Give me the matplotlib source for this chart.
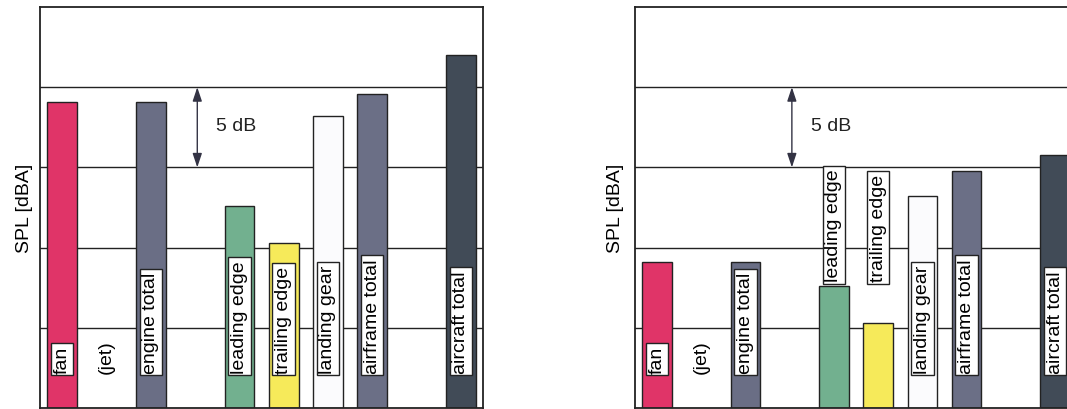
import numpy as np
import matplotlib.pyplot as plt

plt.rcParams['font.family'] = ['Liberation Sans', 'DejaVu Sans']

# sources, in order along the x axis (positions 3 and 8 left empty)
names = ['fan', '(jet)', 'engine total', 'leading edge', 'trailing edge',
         'landing gear', 'airframe total', 'aircraft total']
pos = [0, 1, 2, 4, 5, 6, 7, 9]
colors = ['#e03468', 'none', '#6a6e85', '#72b08f', '#f6ea5a',
          '#fbfbfd', '#6b6f86', '#414b57']

# relative SPL in dB (axis 0..25, grid every 5 dB)
spl_left = [19.1, 0, 19.1, 12.6, 10.3, 18.2, 19.6, 22.0]
spl_right = [9.1, 0, 9.1, 7.6, 5.3, 13.2, 14.8, 15.8]
# label bottom positions (right panel: leading/trailing edge above bars)
lab_left = [2.2] * 8
lab_right = [2.2, 2.2, 2.2, 7.9, 7.9, 2.2, 2.2, 2.2]

fig = plt.figure(figsize=(10.67, 4.10), dpi=100)
ax1 = fig.add_axes([0.0375, 0.0025, 0.4152, 0.978])
ax2 = fig.add_axes([0.595, 0.0025, 0.4145, 0.978])


def draw(ax, spl, lab, pad):
    ax.set_xlim(-0.5, 9.5)
    ax.set_ylim(0, 25)
    for g in [5, 10, 15, 20]:
        ax.axhline(g, color='#222222', lw=1.0, zorder=1)
    for p, v, c, n, l in zip(pos, spl, colors, names, lab):
        if n != '(jet)':
            ax.bar(p, v, width=0.67, color=c, edgecolor='#222222', lw=1.0, zorder=2)
            ax.text(p, l, n, rotation=90, ha='center', va='bottom', fontsize=14,
                    zorder=3, bbox=dict(boxstyle='square,pad=0.14', fc='white',
                                        ec='#222222', lw=1.0))
        else:
            ax.text(p, l, n, rotation=90, ha='center', va='bottom', fontsize=14, zorder=3)
    ax.annotate('', xy=(3.05, 20), xytext=(3.05, 15),
                arrowprops=dict(arrowstyle='<|-|>,head_length=0.6,head_width=0.2',
                                color='#333344', lw=1.0,
                                mutation_scale=14, shrinkA=0, shrinkB=0))
    ax.text(3.48, 17.6, '5 dB', fontsize=14, va='center', ha='left', color='#222222')
    ax.set_xticks([])
    ax.set_yticks([])
    for s in ax.spines.values():
        s.set_linewidth(1.3)
        s.set_color('#222222')
    ax.set_ylabel('SPL [dBA]', fontsize=14, labelpad=pad)


draw(ax1, spl_left, lab_left, 5)
draw(ax2, spl_right, lab_right, 8)

fig.savefig('out.png', dpi=100)
